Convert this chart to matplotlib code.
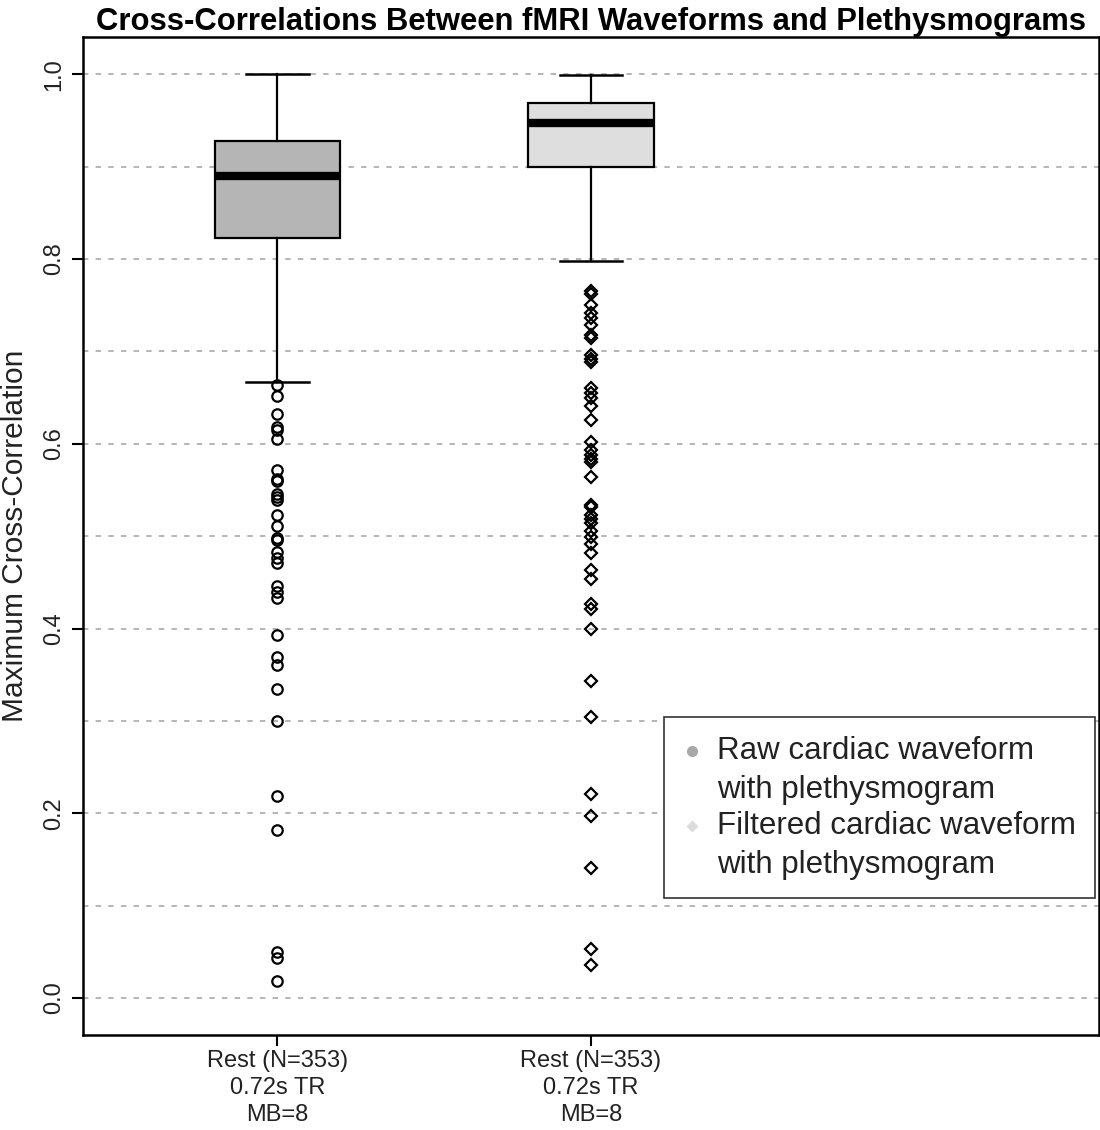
import matplotlib
matplotlib.use("Agg")
import matplotlib.pyplot as plt
from matplotlib.lines import Line2D
from matplotlib.legend_handler import HandlerLine2D

plt.rcParams['font.family'] = ['Liberation Sans', 'DejaVu Sans']

# ---- data ----
categories = ["Rest (N=353)\n0.72s TR\nMB=8", "Rest (N=353)\n0.72s TR\nMB=8"]
series_names = ["Raw cardiac waveform\nwith plethysmogram",
                "Filtered cardiac waveform\nwith plethysmogram"]

raw_whislo, raw_q1, raw_med, raw_q3, raw_whishi = 0.667, 0.823, 0.890, 0.928, 1.000
raw_outliers = [0.664, 0.652, 0.632, 0.618, 0.615, 0.605, 0.572, 0.562, 0.560,
                0.546, 0.542, 0.539, 0.523, 0.511, 0.498, 0.496, 0.483, 0.476,
                0.471, 0.446, 0.440, 0.433, 0.393, 0.369, 0.360, 0.334,
                0.300, 0.219, 0.182, 0.050, 0.043, 0.018]

filt_whislo, filt_q1, filt_med, filt_q3, filt_whishi = 0.798, 0.900, 0.947, 0.969, 0.999
filt_outliers = [0.765, 0.762, 0.750, 0.741, 0.736, 0.729, 0.718, 0.714, 0.696,
                 0.692, 0.688, 0.660, 0.655, 0.649, 0.641, 0.626, 0.602, 0.593,
                 0.588, 0.584, 0.580, 0.564, 0.534, 0.531, 0.523, 0.519, 0.514,
                 0.506, 0.499, 0.491, 0.482, 0.463, 0.454, 0.427, 0.421, 0.399,
                 0.343, 0.304, 0.221, 0.197, 0.141, 0.053, 0.036]

yticks = [0.0, 0.2, 0.4, 0.6, 0.8, 1.0]
ytick_labels = ["0.0", "0.2", "0.4", "0.6", "0.8", "1.0"]
grid_levels = [i / 10 for i in range(11)]

box_colors = ["#b5b5b5", "#dedede"]


class FirstLineHandler(HandlerLine2D):
    """Place the legend marker level with the first text line."""
    def create_artists(self, legend, orig_handle, xdescent, ydescent, width,
                       height, fontsize, trans):
        arts = super().create_artists(legend, orig_handle, xdescent, ydescent,
                                      width, height, fontsize, trans)
        for a in arts:
            a.set_ydata([v + 0.62 * fontsize for v in a.get_ydata()])
        return arts


# ---- figure ----
fig = plt.figure(figsize=(11, 11.3), dpi=100)
ax = fig.add_axes([0.0755, 0.0841, 0.9235, 0.8829])

for g in grid_levels:
    ax.axhline(g, color="#b0b0b0", lw=1.3, ls=(0, (3, 4)), zorder=0)

stats = [
    dict(med=raw_med, q1=raw_q1, q3=raw_q3, whislo=raw_whislo, whishi=raw_whishi,
         fliers=raw_outliers),
    dict(med=filt_med, q1=filt_q1, q3=filt_q3, whislo=filt_whislo, whishi=filt_whishi,
         fliers=filt_outliers),
]

bp = ax.bxp(stats, positions=[1, 2], widths=0.40, patch_artist=True,
            showfliers=False,
            boxprops=dict(edgecolor="black", linewidth=1.6),
            medianprops=dict(color="black", linewidth=6, solid_capstyle="butt"),
            whiskerprops=dict(color="black", linewidth=1.6, linestyle="-"),
            capprops=dict(color="black", linewidth=1.8),
            capwidths=0.20)
for patch, c in zip(bp["boxes"], box_colors):
    patch.set_facecolor(c)
    patch.set_zorder(2)

ax.plot([1] * len(raw_outliers), raw_outliers, linestyle="none", marker="o",
        markersize=7.5, markerfacecolor="none", markeredgecolor="black",
        markeredgewidth=1.6, zorder=3)
ax.plot([2] * len(filt_outliers), filt_outliers, linestyle="none", marker="D",
        markersize=6.5, markerfacecolor="none", markeredgecolor="black",
        markeredgewidth=1.6, zorder=3)

ax.set_xlim(0.38, 3.62)
ax.set_ylim(-0.04, 1.04)
ax.set_xticks([1, 2])
ax.set_xticklabels(categories, fontsize=17, linespacing=1.3, color="#222222")
ax.set_yticks(yticks)
ax.set_yticklabels(ytick_labels, fontsize=17, rotation=90, va="center",
                   color="#222222")
ax.tick_params(axis="both", length=8, width=1.5, direction="out", pad=5)
ax.tick_params(axis="x", pad=3)
for s in ax.spines.values():
    s.set_linewidth(1.8)

ax.set_ylabel("Maximum Cross-Correlation", fontsize=21.5, labelpad=10,
              color="#222222")
ax.set_title("Cross-Correlations Between fMRI Waveforms and Plethysmograms",
             fontsize=22.3, fontweight="bold", pad=3, x=0.5)

handles = [
    Line2D([], [], linestyle="none", marker="o", markersize=8,
           markerfacecolor="#a8a8a8", markeredgecolor="none"),
    Line2D([], [], linestyle="none", marker="D", markersize=6,
           markerfacecolor="#dcdcdc", markeredgecolor="none"),
]
leg = ax.legend(handles, series_names, loc="lower right",
                bbox_to_anchor=(0.996, 0.137), fontsize=22.5, frameon=True,
                fancybox=False, edgecolor="#333333", framealpha=1,
                handlelength=0.6, handletextpad=0.5, labelspacing=0.2,
                borderpad=0.6, borderaxespad=0,
                handler_map={Line2D: FirstLineHandler(numpoints=1)})
for t in leg.get_texts():
    t.set_color("#222222")
    t.set_linespacing(1.38)
leg.get_frame().set_linewidth(1.2)

fig.savefig("out.png", dpi=100, facecolor="white")
